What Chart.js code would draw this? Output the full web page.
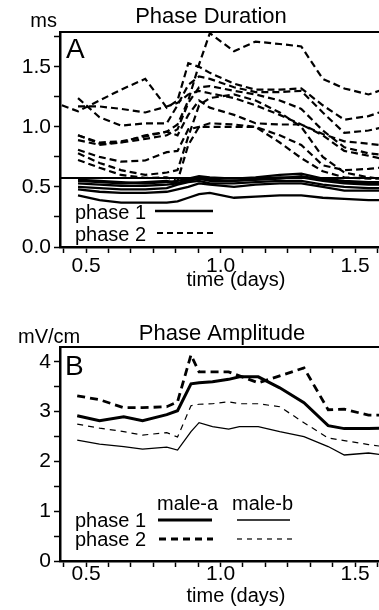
<!DOCTYPE html>
<html>
<head>
<meta charset="utf-8">
<script src="https://cdn.jsdelivr.net/npm/chart.js@4.4.1/dist/chart.umd.min.js"></script>
<style>
  body { margin: 0; background: #fff; width: 379px; height: 610px; overflow: hidden; position: relative; }
  canvas { position: absolute; left: 0; }
  #durChart { top: 0; }
  #ampChart { top: 300px; }
</style>
</head>
<body>
<canvas id="durChart" width="379" height="300"></canvas>
<canvas id="ampChart" width="379" height="310"></canvas>
<script>
// ---- panel A: phase duration (ms) ----
var durTimes = [0.41, 0.47, 0.55, 0.63, 0.72, 0.80, 0.84, 0.88, 0.92, 0.96, 1.05, 1.13, 1.22, 1.30, 1.38, 1.46, 1.55, 1.59];
var durPhase2 = [
  [null, 0.93, 0.86, 0.87, 0.93, 0.96, 1.02, 1.22, 1.52, 1.78, 1.63, 1.71, 1.69, 1.67, 1.40, 1.32, 1.27, 1.30],
  [1.18, 1.13, 1.22, 1.31, 1.40, 1.16, 1.22, 1.53, 1.50, 1.45, 1.36, 1.31, 1.31, 1.32, 1.18, 1.06, 1.09, 1.12],
  [null, 1.24, 1.08, 1.01, 1.03, 1.03, 1.18, 1.35, 1.42, 1.40, 1.33, 1.29, 1.29, 1.30, 1.12, 0.95, 0.97, 0.99],
  [null, 1.17, 1.17, 1.15, 1.12, 1.17, 1.20, 1.27, 1.30, 1.28, 1.24, 1.18, 1.10, 1.02, 0.94, 0.88, 0.86, 0.85],
  [null, 0.89, 0.85, 0.87, 0.90, 0.93, 0.98, 1.20, 1.33, 1.34, 1.30, 1.27, 1.22, 1.15, 0.97, 0.83, 0.78, 0.77],
  [null, 0.93, 0.87, 0.88, 0.92, 0.96, 0.93, 1.10, 1.22, 1.16, 1.10, 1.03, 1.02, 1.02, 0.93, 0.80, 0.76, 0.74],
  [null, 0.81, 0.75, 0.71, 0.72, 0.79, 0.80, 0.98, 1.00, 1.03, 1.02, 1.00, 0.93, 0.85, 0.68, 0.64, 0.65, 0.66],
  [null, 0.725, 0.66, 0.60, 0.575, 0.58, 0.55, 0.85, 1.00, 1.00, 1.00, 1.00, 0.87, 0.74, 0.63, 0.58, 0.57, 0.57],
  [null, 0.78, 0.70, 0.64, 0.60, 0.62, 0.64, 0.92, 1.18, 1.24, 1.27, 1.22, 1.12, 1.00, 0.75, 0.62, 0.58, 0.57]
];
var durPhase1 = [
  [null, 0.43, 0.39, 0.37, 0.37, 0.37, 0.38, 0.41, 0.44, 0.45, 0.41, 0.42, 0.43, 0.43, 0.41, 0.40, 0.39, 0.39],
  [null, 0.48, 0.46, 0.45, 0.45, 0.46, 0.48, 0.50, 0.53, 0.52, 0.50, 0.52, 0.53, 0.53, 0.50, 0.47, 0.47, 0.47],
  [null, 0.50, 0.49, 0.48, 0.48, 0.49, 0.52, 0.54, 0.55, 0.53, 0.53, 0.54, 0.55, 0.55, 0.52, 0.50, 0.49, 0.49],
  [null, 0.53, 0.52, 0.51, 0.51, 0.52, 0.53, 0.56, 0.57, 0.55, 0.55, 0.57, 0.58, 0.58, 0.55, 0.53, 0.52, 0.52],
  [null, 0.56, 0.55, 0.54, 0.53, 0.54, 0.55, 0.57, 0.59, 0.58, 0.57, 0.58, 0.60, 0.61, 0.57, 0.55, 0.54, 0.54],
  [null, 0.55, 0.54, 0.53, 0.54, 0.55, 0.53, 0.55, 0.57, 0.56, 0.55, 0.56, 0.57, 0.59, 0.56, 0.54, 0.53, 0.53]
];
var durRefLevel = 0.575;
var durYTickLabels = ['0.0', '0.5', '1.0', '1.5'];

// ---- panel B: phase amplitude (mV/cm) ----
var ampTimes = [0.467, 0.55, 0.64, 0.71, 0.80, 0.84, 0.89, 0.92, 0.97, 1.03, 1.07, 1.14, 1.22, 1.31, 1.40, 1.46, 1.55, 1.59];
var maleAPhase1 = [2.92, 2.82, 2.90, 2.82, 2.94, 3.02, 3.56, 3.58, 3.60, 3.65, 3.70, 3.70, 3.48, 3.18, 2.72, 2.66, 2.66, 2.67];
var maleAPhase2 = [3.32, 3.24, 3.08, 3.08, 3.10, 3.20, 4.14, 3.80, 3.80, 3.80, 3.72, 3.58, 3.72, 3.88, 3.04, 3.05, 2.93, 2.93];
var maleBPhase1 = [2.43, 2.35, 2.30, 2.25, 2.29, 2.23, 2.60, 2.78, 2.70, 2.65, 2.70, 2.70, 2.60, 2.50, 2.30, 2.13, 2.17, 2.14];
var maleBPhase2 = [2.75, 2.67, 2.60, 2.53, 2.58, 2.49, 3.12, 3.15, 3.16, 3.20, 3.16, 3.16, 3.10, 2.78, 2.47, 2.42, 2.34, 2.31];
var ampYTickLabels = ['0', '1', '2', '3', '4'];

var xTickLabels = ['0.5', '1.0', '1.5'];

var FONT = "'Liberation Sans', Arial, sans-serif";
Chart.defaults.font.family = FONT;
Chart.defaults.font.size = 21;
Chart.defaults.color = '#000';
Chart.defaults.animation = false;

function pts(times, vals) {
  return times.map(function (t, i) { return { x: t, y: vals[i] }; });
}

function stepTicks(min, max, step) {
  var out = [];
  for (var v = min; v <= max + 1e-9; v += step) out.push({ value: +v.toFixed(4) });
  return out;
}

function labelFor(list) {
  return function (value) {
    for (var i = 0; i < list.length; i++) {
      if (Math.abs(parseFloat(list[i]) - value) < 1e-6) return list[i];
    }
    return '';
  };
}

// draws frame top, titles, panel letter, inline legend
var decor = {
  id: 'decor',
  afterDraw: function (chart, args, o) {
    var ctx = chart.ctx, a = chart.chartArea;
    ctx.save();
    ctx.strokeStyle = '#000';
    ctx.lineWidth = 2;
    ctx.beginPath();
    ctx.moveTo(a.left - 1, a.top);
    ctx.lineTo(a.right, a.top);
    ctx.stroke();

    ctx.fillStyle = '#000';
    ctx.textBaseline = 'alphabetic';
    o.texts.forEach(function (t) {
      ctx.font = (t.size || 20) + 'px ' + FONT;
      ctx.textAlign = t.align || 'left';
      ctx.fillText(t.text, t.x, t.y);
    });
    o.keys.forEach(function (k) {
      ctx.lineWidth = k.width;
      ctx.setLineDash(k.dash || []);
      ctx.beginPath();
      ctx.moveTo(k.x1, k.y);
      ctx.lineTo(k.x2, k.y);
      ctx.stroke();
    });
    ctx.restore();
  }
};

function baseOptions(padTop, yMax, yStep, yLabels, xAxisHeight, xPad, texts, keys) {
  return {
    responsive: false,
    layout: { padding: { top: padTop, left: 0, right: 0, bottom: 0 } },
    plugins: { legend: { display: false }, tooltip: { enabled: false }, decor: { texts: texts, keys: keys } },
    elements: { point: { radius: 0 }, line: { tension: 0, borderColor: '#000', fill: false } },
    scales: {
      x: {
        type: 'linear', min: 0.403, max: 1.589,
        afterBuildTicks: function (s) { s.ticks = stepTicks(5 / 12, 1.589, 1 / 12); },
        afterFit: function (s) { s.height = xAxisHeight; },
        ticks: { autoSkip: false, maxRotation: 0, padding: xPad, callback: labelFor(xTickLabels) },
        grid: { drawOnChartArea: false, drawTicks: true, tickLength: 6, tickWidth: 1.5, tickColor: '#000' },
        border: { display: true, color: '#000', width: 2.5 }
      },
      y: {
        min: 0, max: yMax,
        afterBuildTicks: function (s) { s.ticks = stepTicks(0, yMax, yStep); },
        afterFit: function (s) { s.width = 60; },
        ticks: { autoSkip: false, padding: 3, callback: labelFor(yLabels) },
        grid: { drawOnChartArea: false, drawTicks: true, tickLength: 6, tickWidth: 1.5, tickColor: '#000' },
        border: { display: true, color: '#000', width: 2.5 }
      }
    }
  };
}

// ---- build panel A ----
var durSets = [];
durSets.push({ data: [{ x: 0.403, y: durRefLevel }, { x: 1.589, y: durRefLevel }], borderWidth: 2 });
durPhase1.forEach(function (v) {
  durSets.push({ data: pts(durTimes, v), borderWidth: 2.3 });
});
durPhase2.forEach(function (v) {
  durSets.push({ data: pts(durTimes, v), borderWidth: 2.2, borderDash: [7, 4] });
});

new Chart(document.getElementById('durChart'), {
  type: 'line',
  data: { datasets: durSets },
  options: baseOptions(32, 1.79, 0.25, durYTickLabels, 53, 1, [
    { text: 'Phase Duration', x: 211, y: 23, size: 22, align: 'center' },
    { text: 'ms', x: 57, y: 27, align: 'right' },
    { text: 'A', x: 66, y: 58, size: 28 },
    { text: 'time (days)', x: 236, y: 286, align: 'center' },
    { text: 'phase 1', x: 75, y: 219 },
    { text: 'phase 2', x: 75, y: 241 }
  ], [
    { x1: 155, x2: 213, y: 211, width: 2.5 },
    { x1: 157, x2: 213, y: 233, width: 2.2, dash: [6, 4] }
  ]),
  plugins: [decor]
});

// ---- build panel B ----
new Chart(document.getElementById('ampChart'), {
  type: 'line',
  data: {
    datasets: [
      { data: pts(ampTimes, maleAPhase1), borderWidth: 3 },
      { data: pts(ampTimes, maleAPhase2), borderWidth: 2.8, borderDash: [8, 5] },
      { data: pts(ampTimes, maleBPhase1), borderWidth: 1.3 },
      { data: pts(ampTimes, maleBPhase2), borderWidth: 1.2, borderDash: [6, 5] }
    ]
  },
  options: baseOptions(47, 4.3, 0.5, ampYTickLabels, 49, -5, [
    { text: 'Phase Amplitude', x: 222, y: 40, size: 22, align: 'center' },
    { text: 'mV/cm', x: 18, y: 43 },
    { text: 'B', x: 65, y: 75, size: 28 },
    { text: 'time (days)', x: 236, y: 302, align: 'center' },
    { text: 'male-a', x: 157, y: 210 },
    { text: 'male-b', x: 232, y: 210 },
    { text: 'phase 1', x: 75, y: 227 },
    { text: 'phase 2', x: 75, y: 246 }
  ], [
    { x1: 158, x2: 212, y: 220, width: 3 },
    { x1: 237, x2: 290, y: 220, width: 1.3 },
    { x1: 159, x2: 213, y: 239, width: 2.8, dash: [7, 5] },
    { x1: 237, x2: 292, y: 239, width: 1.2, dash: [5, 5] }
  ]),
  plugins: [decor]
});
</script>
</body>
</html>
